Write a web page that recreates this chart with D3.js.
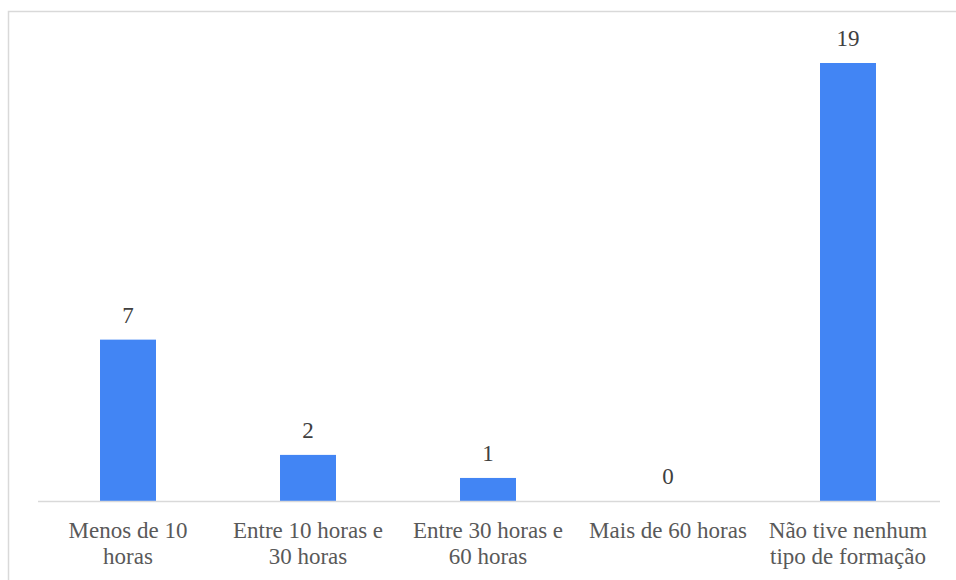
<!DOCTYPE html>
<html lang="pt">
<head>
<meta charset="utf-8">
<script src="https://cdn.jsdelivr.net/npm/d3@7"></script>
<style>
  html, body { margin: 0; padding: 0; background: #fff; }
  svg { display: block; }
  svg text, svg tspan { font-family: "Liberation Serif", "Times New Roman", Times, serif !important; }
</style>
</head>
<body>
<svg id="chart" width="956" height="580" font-family="Liberation Serif"></svg>
<script>
// Categories (each label split into its display lines) and counts
const categories = [
  ["Menos de 10", "horas"],
  ["Entre 10 horas e", "30 horas"],
  ["Entre 30 horas e", "60 horas"],
  ["Mais de 60 horas"],
  ["Não tive nenhum", "tipo de formação"]
];
const values = [7, 2, 1, 0, 19];

function draw() {
  const svg = d3.select("#chart");
  const textColor = "#595959";

  // Outer frame
  svg.append("rect")
    .attr("x", 8.5).attr("y", 11.5)
    .attr("width", 970).attr("height", 600)
    .attr("fill", "none")
    .attr("stroke", "#d9d9d9")
    .attr("stroke-width", 1.5);

  const plot = { left: 38, right: 938, top: 63, bottom: 501 };
  const keys = categories.map((c, i) => i);

  const x = d3.scaleBand()
    .domain(keys)
    .range([plot.left, plot.right])
    .paddingInner(0.689)
    .paddingOuter(0.3445);

  const y = d3.scaleLinear()
    .domain([0, 19])
    .range([plot.bottom, plot.top]);

  // Bars
  svg.append("g").selectAll("rect")
    .data(values)
    .join("rect")
    .attr("x", (d, i) => x(i))
    .attr("y", d => y(d))
    .attr("width", x.bandwidth())
    .attr("height", d => y(0) - y(d))
    .attr("fill", "#4285f4");

  // Baseline
  svg.append("line")
    .attr("x1", plot.left).attr("x2", 940)
    .attr("y1", plot.bottom + 0.5).attr("y2", plot.bottom + 0.5)
    .attr("stroke", "#d9d9d9")
    .attr("stroke-width", 1.5);

  // Value labels
  values.forEach((v, i) => {
    svg.append("text")
      .style("font-family", '"Liberation Serif"')
      .attr("x", x(i) + x.bandwidth() / 2)
      .attr("y", y(v) - 17)
      .attr("text-anchor", "middle")
      .attr("font-size", 23)
      .attr("fill", "#404040")
      .text(v);
  });

  // Category labels, one text element per line
  categories.forEach((lines, i) => {
    lines.forEach((line, j) => {
      svg.append("text")
        .style("font-family", '"Liberation Serif"')
        .attr("x", x(i) + x.bandwidth() / 2)
        .attr("y", 538 + j * 26)
        .attr("text-anchor", "middle")
        .attr("font-size", 23)
        .attr("fill", textColor)
        .text(line);
    });
  });
}

draw();
</script>
</body>
</html>
